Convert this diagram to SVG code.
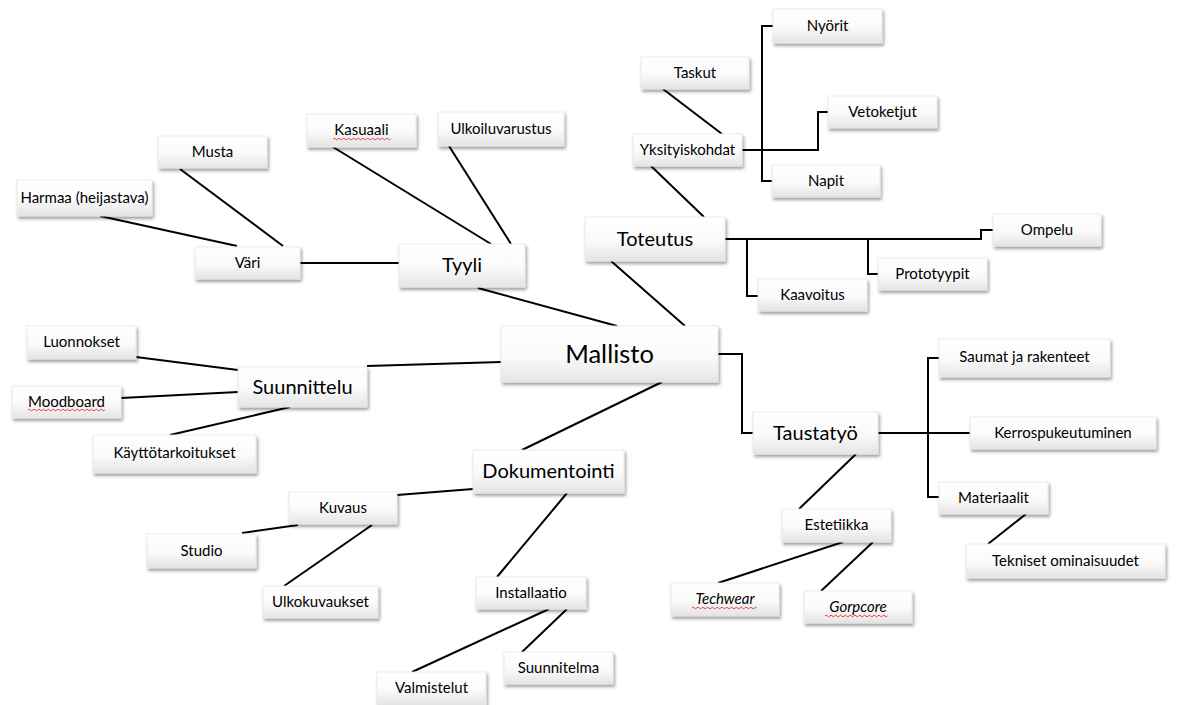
<svg xmlns="http://www.w3.org/2000/svg" width="1199" height="705" viewBox="0 0 1199 705">
<defs>
<linearGradient id="boxg" x1="0" y1="0" x2="0" y2="1">
<stop offset="0" stop-color="#ffffff"/>
<stop offset="0.55" stop-color="#fafafa"/>
<stop offset="1" stop-color="#e4e4e4"/>
</linearGradient>
<filter id="sh" x="-10%" y="-20%" width="125%" height="160%">
<feDropShadow dx="1.5" dy="2.5" stdDeviation="1.5" flood-color="#000" flood-opacity="0.38"/>
</filter>
</defs>
<style>
.box{fill:url(#boxg);stroke:#e6e6e6;stroke-width:0.8;filter:url(#sh)}
.t{font-family:Lato,"Liberation Sans",sans-serif;font-size:15px;fill:#000;text-anchor:middle}
.tb{font-size:20px}
.th{font-size:25.5px}
.it{font-style:italic}
.c{stroke:#000;stroke-width:2;fill:none}
.sp{stroke:#e03030;stroke-width:0.9;fill:none}
</style>
<rect width="1199" height="705" fill="#ffffff"/>
<g id="connectors" class="c">
<path d="M100,216 L237,246"/>
<path d="M180,169 L283,246"/>
<path d="M300,263 L399,263"/>
<path d="M333,147 L491,244"/>
<path d="M449,146 L511,244"/>
<path d="M478,288 L617,326"/>
<path d="M663,89 L722,134"/>
<path d="M651,166 L704,217"/>
<path d="M742,150 H818 V112 H828"/>
<path d="M773,26 H762 V181 H772"/>
<path d="M611,261 L685,326"/>
<path d="M725,239 H981 V230 H993"/>
<path d="M747,239 V296 H758"/>
<path d="M868,239 V274 H878"/>
<path d="M367,366 L501,362"/>
<path d="M136,357 L238,370"/>
<path d="M121,398 L238,392"/>
<path d="M170,435 L290,407"/>
<path d="M718,354 H742 V433 H753"/>
<path d="M878,433 H970"/>
<path d="M939,358 H928 V497 H939"/>
<path d="M1026,514 L988,544"/>
<path d="M856,454 L799,509"/>
<path d="M843,542 L718,583"/>
<path d="M873,542 L821,591"/>
<path d="M662,382 L522,450"/>
<path d="M473,489 L397,495"/>
<path d="M242,533 L298,525"/>
<path d="M372,525 L284,586"/>
<path d="M567,493 L497,577"/>
<path d="M549,609 L412,672"/>
<path d="M567,609 L522,652"/>
</g>
<g id="musta"><rect class="box" x="158" y="136" width="109" height="32"/><text class="t" x="212.5" y="157">Musta</text></g>
<g id="harmaa"><rect class="box" x="17" y="180" width="135" height="36"/><text class="t" x="84.5" y="203">Harmaa (heijastava)</text></g>
<g id="vari"><rect class="box" x="195" y="247" width="105" height="32"/><text class="t" x="247.5" y="268">Väri</text></g>
<g id="kasuaali"><rect class="box" x="307" y="114" width="109" height="33"/><text class="t" x="361.5" y="135">Kasuaali</text><path class="sp" d="M333,139 q1.2,-1.6 2.4,0 t2.4,0 t2.4,0 t2.4,0 t2.4,0 t2.4,0 t2.4,0 t2.4,0 t2.4,0 t2.4,0 t2.4,0 t2.4,0 t2.4,0 t2.4,0 t2.4,0 t2.4,0 t2.4,0 t2.4,0 t2.4,0 t2.4,0 t2.4,0 t2.4,0 t2.4,0 t2.4,0"/></g>
<g id="ulkoiluvarustus"><rect class="box" x="438" y="112" width="126" height="34"/><text class="t" x="501" y="134">Ulkoiluvarustus</text></g>
<g id="tyyli"><rect class="box" x="399" y="244" width="126" height="43"/><text class="t tb" x="462" y="272">Tyyli</text></g>
<g id="taskut"><rect class="box" x="641" y="57" width="108" height="32"/><text class="t" x="695" y="78">Taskut</text></g>
<g id="nyorit"><rect class="box" x="773" y="9" width="109" height="34"/><text class="t" x="827.5" y="31">Nyörit</text></g>
<g id="vetoketjut"><rect class="box" x="828" y="96" width="109" height="32"/><text class="t" x="882.5" y="117">Vetoketjut</text></g>
<g id="yksityiskohdat"><rect class="box" x="633" y="134" width="109" height="32"/><text class="t" x="687.5" y="155">Yksityiskohdat</text></g>
<g id="napit"><rect class="box" x="772" y="165" width="108" height="32"/><text class="t" x="826" y="186">Napit</text></g>
<g id="toteutus"><rect class="box" x="585" y="217" width="140" height="44"/><text class="t tb" x="655" y="246">Toteutus</text></g>
<g id="ompelu"><rect class="box" x="993" y="214" width="108" height="32"/><text class="t" x="1047" y="235">Ompelu</text></g>
<g id="kaavoitus"><rect class="box" x="758" y="279" width="109" height="32"/><text class="t" x="812.5" y="300">Kaavoitus</text></g>
<g id="prototyypit"><rect class="box" x="878" y="258" width="109" height="32"/><text class="t" x="932.5" y="279">Prototyypit</text></g>
<g id="mallisto"><rect class="box" x="501" y="326" width="217" height="56"/><text class="t th" x="609.5" y="363">Mallisto</text></g>
<g id="luonnokset"><rect class="box" x="27" y="326" width="109" height="33"/><text class="t" x="81.5" y="347">Luonnokset</text></g>
<g id="suunnittelu"><rect class="box" x="238" y="367" width="129" height="40"/><text class="t tb" x="302.5" y="394">Suunnittelu</text></g>
<g id="moodboard"><rect class="box" x="12" y="386" width="109" height="32"/><text class="t" x="66.5" y="407">Moodboard</text><path class="sp" d="M28,410 q1.2,-1.6 2.4,0 t2.4,0 t2.4,0 t2.4,0 t2.4,0 t2.4,0 t2.4,0 t2.4,0 t2.4,0 t2.4,0 t2.4,0 t2.4,0 t2.4,0 t2.4,0 t2.4,0 t2.4,0 t2.4,0 t2.4,0 t2.4,0 t2.4,0 t2.4,0 t2.4,0 t2.4,0 t2.4,0 t2.4,0 t2.4,0 t2.4,0 t2.4,0 t2.4,0 t2.4,0 t2.4,0 t2.4,0"/></g>
<g id="kayttotarkoitukset"><rect class="box" x="93" y="435" width="163" height="38"/><text class="t" x="174.5" y="458">Käyttötarkoitukset</text></g>
<g id="taustatyo"><rect class="box" x="753" y="412" width="125" height="42"/><text class="t tb" x="815.5" y="440">Taustatyö</text></g>
<g id="saumat"><rect class="box" x="939" y="339" width="171" height="38"/><text class="t" x="1024.5" y="362">Saumat ja rakenteet</text></g>
<g id="kerrospukeutuminen"><rect class="box" x="970" y="417" width="186" height="32"/><text class="t" x="1063" y="438">Kerrospukeutuminen</text></g>
<g id="materiaalit"><rect class="box" x="939" y="482" width="109" height="32"/><text class="t" x="993.5" y="503">Materiaalit</text></g>
<g id="tekniset"><rect class="box" x="966" y="544" width="199" height="34"/><text class="t" x="1065.5" y="566">Tekniset ominaisuudet</text></g>
<g id="estetiikka"><rect class="box" x="782" y="509" width="109" height="33"/><text class="t" x="836.5" y="530">Estetiikka</text></g>
<g id="techwear"><rect class="box" x="671" y="583" width="108" height="33"/><text class="t it" x="725" y="604">Techwear</text><path class="sp" d="M692,608 q1.2,-1.6 2.4,0 t2.4,0 t2.4,0 t2.4,0 t2.4,0 t2.4,0 t2.4,0 t2.4,0 t2.4,0 t2.4,0 t2.4,0 t2.4,0 t2.4,0 t2.4,0 t2.4,0 t2.4,0 t2.4,0 t2.4,0 t2.4,0 t2.4,0 t2.4,0 t2.4,0 t2.4,0 t2.4,0 t2.4,0 t2.4,0 t2.4,0"/></g>
<g id="gorpcore"><rect class="box" x="804" y="591" width="108" height="32"/><text class="t it" x="858" y="612">Gorpcore</text><path class="sp" d="M825,616 q1.2,-1.6 2.4,0 t2.4,0 t2.4,0 t2.4,0 t2.4,0 t2.4,0 t2.4,0 t2.4,0 t2.4,0 t2.4,0 t2.4,0 t2.4,0 t2.4,0 t2.4,0 t2.4,0 t2.4,0 t2.4,0 t2.4,0 t2.4,0 t2.4,0 t2.4,0 t2.4,0 t2.4,0 t2.4,0 t2.4,0 t2.4,0"/></g>
<g id="dokumentointi"><rect class="box" x="473" y="450" width="151" height="43"/><text class="t tb" x="548.5" y="478">Dokumentointi</text></g>
<g id="kuvaus"><rect class="box" x="289" y="492" width="108" height="32"/><text class="t" x="343" y="513">Kuvaus</text></g>
<g id="studio"><rect class="box" x="147" y="534" width="109" height="34"/><text class="t" x="201.5" y="556">Studio</text></g>
<g id="ulkokuvaukset"><rect class="box" x="263" y="586" width="115" height="32"/><text class="t" x="320.5" y="607">Ulkokuvaukset</text></g>
<g id="installaatio"><rect class="box" x="476" y="577" width="110" height="32"/><text class="t" x="531" y="598">Installaatio</text></g>
<g id="suunnitelma"><rect class="box" x="504" y="652" width="109" height="32"/><text class="t" x="558.5" y="673">Suunnitelma</text></g>
<g id="valmistelut"><rect class="box" x="377" y="672" width="109" height="33"/><text class="t" x="431.5" y="693">Valmistelut</text></g>
</svg>
